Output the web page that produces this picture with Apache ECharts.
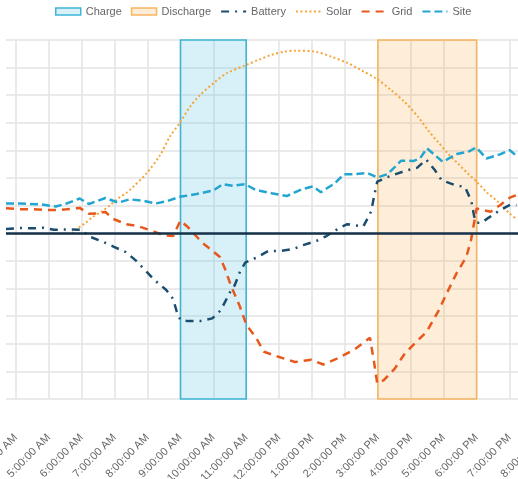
<!DOCTYPE html>
<html>
<head>
<meta charset="utf-8">
<script src="https://cdn.jsdelivr.net/npm/echarts@6/dist/echarts.min.js"></script>
<style>
  html, body { margin: 0; padding: 0; background: #fff; }
  #chart { width: 518px; height: 479px; }
</style>
</head>
<body>
<div id="chart"></div>
<script>
// Power flows over the day, in kW, time in decimal hours
const tickHours = [4, 5, 6, 7, 8, 9, 10, 11, 12, 13, 14, 15, 16, 17, 18, 19, 20];
const chargeWindow = [9, 11];
const dischargeWindow = [15, 18];

const batteryData = [
  [3.70, 0.16], [4.12, 0.19], [4.52, 0.18], [4.83, 0.20], [5.15, 0.13], [5.54, 0.14],
  [5.98, 0.13], [6.22, -0.11], [6.67, -0.32], [6.98, -0.49], [7.34, -0.68], [7.65, -0.99],
  [7.97, -1.39], [8.22, -1.70], [8.57, -2.05], [8.78, -2.38], [8.89, -2.84], [9.00, -3.14],
  [9.24, -3.18], [9.59, -3.18], [9.97, -3.08], [10.23, -2.78], [10.50, -2.15], [10.65, -1.88],
  [10.81, -1.39], [10.97, -1.06], [11.31, -0.88], [11.67, -0.64], [12.02, -0.64], [12.43, -0.57],
  [12.73, -0.43], [13.14, -0.27], [13.44, -0.10], [13.81, 0.18], [14.07, 0.33], [14.56, 0.25],
  [14.80, 0.80], [14.88, 1.31], [14.98, 1.87], [15.33, 2.05], [15.82, 2.26], [16.19, 2.37],
  [16.47, 2.67], [16.73, 2.29], [16.94, 1.92], [17.31, 1.76], [17.65, 1.67], [17.84, 1.17],
  [17.93, 0.60], [18.00, 0.38], [18.15, 0.38], [18.36, 0.56], [18.73, 0.85], [19.03, 1.04],
  [19.21, 1.02]
];

const solarData = [
  [5.70, 0.00], [5.84, 0.15], [6.10, 0.36], [6.35, 0.60], [6.60, 0.78], [6.86, 1.02],
  [7.11, 1.26], [7.36, 1.47], [7.56, 1.68], [7.97, 2.17], [8.38, 2.83], [8.68, 3.50],
  [8.98, 4.00], [9.29, 4.58], [9.59, 5.00], [10.00, 5.43], [10.40, 5.79], [10.99, 6.09],
  [11.41, 6.30], [11.76, 6.46], [12.16, 6.58], [12.47, 6.61], [13.08, 6.58], [13.58, 6.40],
  [14.09, 6.16], [14.49, 5.91], [14.98, 5.58], [15.40, 5.19], [15.81, 4.76], [16.22, 4.22],
  [16.52, 3.74], [16.82, 3.32], [17.13, 2.89], [17.43, 2.53], [17.73, 2.17], [18.00, 1.87],
  [18.34, 1.45], [18.65, 1.14], [19.00, 0.72], [19.22, 0.51]
];

const gridData = [
  [3.70, 0.91], [4.12, 0.87], [4.52, 0.87], [4.93, 0.84], [5.29, 0.84], [5.54, 0.87],
  [5.94, 0.92], [6.22, 0.71], [6.46, 0.72], [6.72, 0.77], [6.96, 0.52], [7.36, 0.33],
  [7.71, 0.26], [8.07, 0.12], [8.48, -0.07], [8.78, -0.10], [9.00, 0.46], [9.24, 0.21],
  [9.54, -0.18], [9.69, -0.37], [9.89, -0.55], [10.20, -0.86], [10.35, -1.27], [10.53, -1.88],
  [10.81, -2.66], [11.01, -3.33], [11.29, -3.76], [11.54, -4.29], [11.93, -4.45], [12.48, -4.66],
  [12.98, -4.58], [13.34, -4.75], [13.81, -4.51], [14.30, -4.20], [14.76, -3.78], [14.88, -4.63],
  [14.98, -5.43], [15.18, -5.32], [15.52, -4.89], [15.82, -4.35], [16.12, -3.99], [16.48, -3.57],
  [16.83, -2.84], [17.09, -2.18], [17.39, -1.45], [17.69, -0.85], [17.83, -0.25], [17.93, 0.42],
  [18.00, 0.90], [18.20, 0.84], [18.43, 0.78], [18.71, 1.02], [19.01, 1.29], [19.21, 1.38]
];

const siteData = [
  [3.70, 1.08], [4.12, 1.08], [4.73, 1.05], [5.22, 0.97], [5.54, 1.08], [5.94, 1.26],
  [6.22, 1.06], [6.72, 1.28], [7.11, 1.11], [7.46, 1.23], [7.87, 1.18], [8.25, 1.08],
  [8.58, 1.16], [8.98, 1.32], [9.49, 1.42], [10.00, 1.55], [10.29, 1.78], [10.60, 1.72],
  [10.97, 1.78], [11.29, 1.57], [11.41, 1.54], [11.77, 1.45], [12.23, 1.35], [12.68, 1.59],
  [13.03, 1.70], [13.27, 1.49], [13.69, 1.81], [13.97, 2.14], [14.30, 2.14], [14.67, 2.19],
  [14.98, 2.02], [15.29, 2.14], [15.71, 2.63], [16.09, 2.62], [16.28, 2.71], [16.49, 3.08],
  [16.97, 2.59], [17.40, 2.87], [17.74, 2.95], [17.99, 3.11], [18.30, 2.71], [18.71, 2.86],
  [19.01, 3.01], [19.22, 2.80]
];

const FONT = '"Liberation Sans", Arial, sans-serif';

function hourLabel(h) {
  const hr = Math.round(h);
  const suffix = hr >= 12 && hr < 24 ? 'PM' : 'AM';
  let h12 = hr % 12;
  if (h12 === 0) h12 = 12;
  return h12 + ':00:00 ' + suffix;
}

const chargeFill = 'rgba(60, 180, 215, 0.2)';
const chargeBorder = '#3db6d8';
const dischargeFill = 'rgba(250, 175, 80, 0.22)';
const dischargeBorder = '#f8b560';

// line-only legend keys: hide the centre marker, keep the dashed stroke
const lineKey = (name) => ({ name: name, itemStyle: { opacity: 0 } });

const chart = echarts.init(document.getElementById('chart'), null, { renderer: 'canvas' });

chart.setOption({
  animation: false,
  textStyle: { fontFamily: FONT },
  legend: {
    top: 1,
    left: 50,
    itemWidth: 25,
    itemHeight: 7,
    itemGap: 9,
    textStyle: { fontSize: 11, color: '#666', fontFamily: FONT },
    data: [
      { name: 'Charge', icon: 'rect', itemStyle: { color: chargeFill, borderColor: chargeBorder, borderWidth: 1.5 } },
      { name: 'Discharge', icon: 'rect', itemStyle: { color: dischargeFill, borderColor: dischargeBorder, borderWidth: 1.5 } },
      lineKey('Battery'), lineKey('Solar'), lineKey('Grid'), lineKey('Site')
    ]
  },
  grid: { left: 6, right: -24.4, top: 40, bottom: 80, outerBoundsMode: 'none', containLabel: false },
  xAxis: {
    type: 'value',
    min: 3.7,
    max: 20,
    axisLine: { show: false },
    axisTick: { show: false, customValues: tickHours },
    splitLine: { show: true, lineStyle: { color: '#e3e3e3', width: 1.5 } },
    axisLabel: {
      customValues: tickHours,
      rotate: 45,
      margin: 37,
      fontSize: 11,
      color: '#666',
      fontFamily: FONT,
      formatter: hourLabel
    }
  },
  yAxis: {
    type: 'value',
    min: -6,
    max: 7,
    interval: 1,
    axisLine: { show: false },
    axisTick: { show: false },
    axisLabel: { show: false },
    splitLine: { show: true, lineStyle: { color: '#e3e3e3', width: 1.5 } }
  },
  series: [
    {
      name: 'Charge',
      type: 'bar',
      data: [],
      itemStyle: { color: chargeFill, borderColor: chargeBorder },
      markArea: {
        silent: true,
        itemStyle: { color: chargeFill, borderColor: chargeBorder, borderWidth: 1.5 },
        data: [[{ xAxis: chargeWindow[0] }, { xAxis: chargeWindow[1] }]]
      }
    },
    {
      name: 'Discharge',
      type: 'bar',
      data: [],
      itemStyle: { color: dischargeFill, borderColor: dischargeBorder },
      markArea: {
        silent: true,
        itemStyle: { color: dischargeFill, borderColor: dischargeBorder, borderWidth: 1.5 },
        data: [[{ xAxis: dischargeWindow[0] }, { xAxis: dischargeWindow[1] }]]
      }
    },
    {
      name: 'Battery',
      type: 'line',
      data: batteryData,
      symbol: 'none',
      color: '#1b4d6e',
      lineStyle: { color: '#1b4d6e', width: 2.5, type: [8, 6, 2, 6] },
      markLine: {
        silent: true,
        symbol: 'none',
        label: { show: false },
        lineStyle: { color: '#15324a', width: 2.5, type: 'solid' },
        data: [{ yAxis: 0 }]
      },
      z: 3
    },
    {
      name: 'Solar',
      type: 'line',
      data: solarData,
      symbol: 'none',
      smooth: 0.3,
      color: '#f6a53a',
      lineStyle: { color: '#f6a53a', width: 2, type: [2, 2.5] },
      z: 2
    },
    {
      name: 'Grid',
      type: 'line',
      data: gridData,
      symbol: 'none',
      color: '#e8581c',
      lineStyle: { color: '#e8581c', width: 2.5, type: [8, 6] },
      z: 4
    },
    {
      name: 'Site',
      type: 'line',
      data: siteData,
      symbol: 'none',
      color: '#22a5d0',
      lineStyle: { color: '#22a5d0', width: 2.5, type: [8, 4] },
      z: 5
    }
  ]
});
</script>
</body>
</html>
